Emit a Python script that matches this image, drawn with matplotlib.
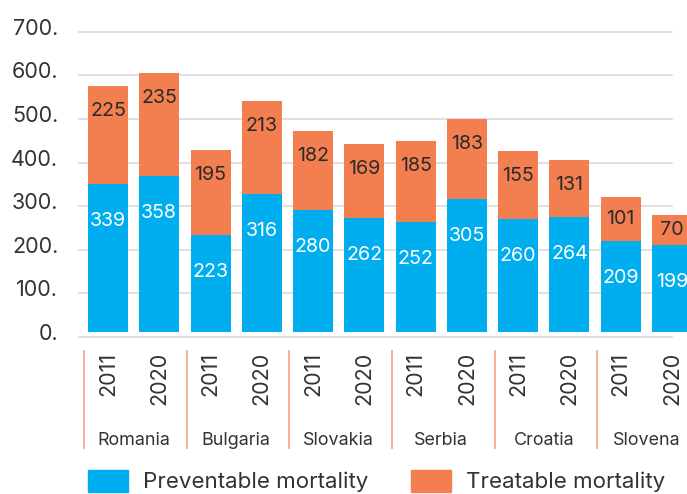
import matplotlib
matplotlib.use("Agg")
from matplotlib import pyplot as plt
from matplotlib import transforms
from matplotlib.lines import Line2D
from matplotlib.patches import Patch
import numpy as np

plt.rcParams['font.family'] = ['Inter', 'DejaVu Sans']

countries = ["Romania", "Bulgaria", "Slovakia", "Serbia", "Croatia", "Slovena"]
years = ["2011", "2020"]
preventable = [339, 358, 223, 316, 280, 262, 252, 305, 260, 264, 209, 199]
treatable = [225, 235, 195, 213, 182, 169, 185, 183, 155, 131, 101, 70]
yticks = [0, 100, 200, 300, 400, 500, 600, 700]

BLUE = "#00AEEF"
ORANGE = "#F37F51"
GRID = "#DADADA"
TXT = "#333333"

W, H = 687, 494
fig = plt.figure(figsize=(W / 100, H / 100), dpi=100)
# plot area in pixels: left 79, right 672, zero at y=332 (from top), 700 at y=26.8
ax = fig.add_axes([79 / W, (H - 332) / H, 593 / W, 305.2 / H])

x = np.arange(len(preventable))
bw = 0.78
ax.bar(x, preventable, bw, color=BLUE, clip_on=False, zorder=3)
ax.bar(x, treatable, bw, bottom=preventable, color=ORANGE, clip_on=False, zorder=3)

ax.set_xlim(-0.565, 11)
ax.set_ylim(0, 700)

# gridlines sit a few pixels below the bar baseline in the original
grid_tr = transforms.offset_copy(ax.get_yaxis_transform(), fig=fig, y=-5, units='dots')
for v in yticks:
    ax.add_line(Line2D([0, 1], [v, v], transform=grid_tr, color=GRID, lw=1.2,
                       zorder=1, clip_on=False))

for s in ax.spines.values():
    s.set_visible(False)

ax.set_yticks(yticks)
ax.set_yticklabels([f"{v}." for v in yticks], fontsize=15.5, color=TXT)
ax.tick_params(axis='y', length=0, pad=15)

ax.set_xticks(x)
ax.set_xticklabels(years * len(countries), rotation=90, fontsize=15.5, color=TXT)
ax.tick_params(axis='x', length=0, pad=14.4)

# value labels
for i in range(len(x)):
    ax.annotate(str(preventable[i]), (x[i], preventable[i]), xytext=(0, -37),
                textcoords='offset pixels', ha='center', va='center',
                fontsize=14.2, color='white', zorder=4, annotation_clip=False)
    seg_px = treatable[i] * 305.2 / 700
    off = -25 if seg_px > 50 else -seg_px / 2
    ax.annotate(str(treatable[i]), (x[i], preventable[i] + treatable[i]),
                xytext=(0, off), textcoords='offset pixels', ha='center', va='center',
                fontsize=14.2, color="#2B2B2B", zorder=4, annotation_clip=False)

# country labels and group separators
blend = transforms.blended_transform_factory(ax.transData, fig.transFigure)
for g, name in enumerate(countries):
    ax.text(2 * g + 0.5, (H - 440) / H, name, transform=blend, ha='center',
            va='center', fontsize=12.9, color=TXT)
    ax.add_line(Line2D([2 * g - 0.46] * 2, [(H - 351) / H, (H - 448) / H],
                       transform=blend, color="#F6A888", lw=1.3, clip_on=False))

handles = [Patch(color=BLUE, label="Preventable mortality"),
           Patch(color=ORANGE, label="Treatable mortality")]
fig.legend(handles=handles, loc='center left', bbox_to_anchor=(88 / W, (H - 481) / H),
           ncol=2, frameon=False, fontsize=16.1, handlelength=1.78, handleheight=1.16,
           handletextpad=0.67, columnspacing=1.92, borderpad=0, borderaxespad=0,
           labelcolor=TXT)

fig.savefig("out.png", dpi=100)
